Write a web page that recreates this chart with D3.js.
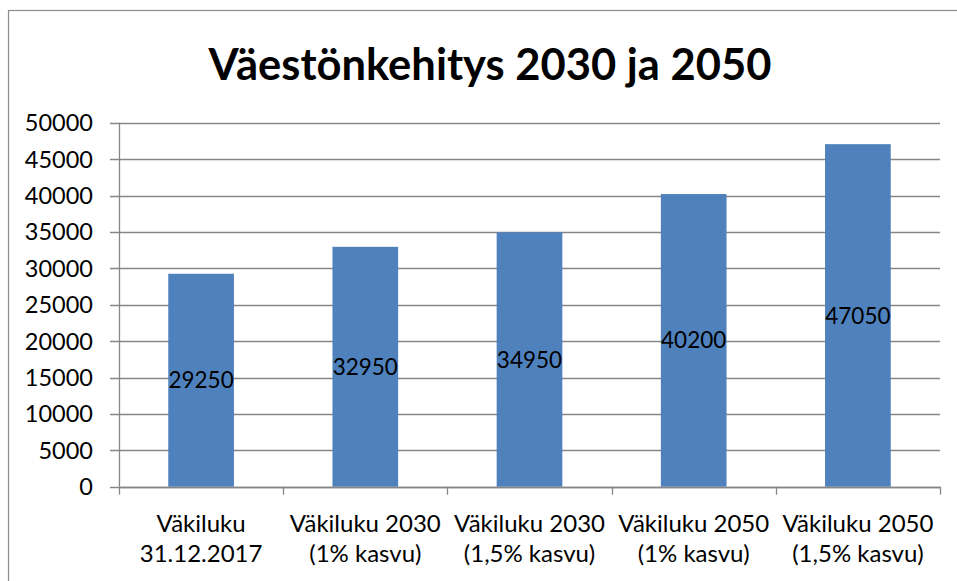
<!DOCTYPE html>
<html>
<head>
<meta charset="utf-8">
<script src="https://cdn.jsdelivr.net/npm/d3@7"></script>
<style>
html,body{margin:0;padding:0;background:#fff;}
svg{display:block;}
</style>
</head>
<body>
<svg id="chart" width="957" height="581"></svg>
<script>
const title = "Väestönkehitys 2030 ja 2050";
const categories = [
  ["Väkiluku", "31.12.2017"],
  ["Väkiluku 2030", "(1% kasvu)"],
  ["Väkiluku 2030", "(1,5% kasvu)"],
  ["Väkiluku 2050", "(1% kasvu)"],
  ["Väkiluku 2050", "(1,5% kasvu)"]
];
const values = [29250, 32950, 34950, 40200, 47050];
const yTicks = [0, 5000, 10000, 15000, 20000, 25000, 30000, 35000, 40000, 45000, 50000];

(function () {
const svg = d3.select("#chart");
const font = "Lato, 'Open Sans', sans-serif";
const pLeft = 119, pRight = 940, pTop = 122.7, pBottom = 486.7;

// outer border
svg.append("rect").attr("x", 8.5).attr("y", 10.5).attr("width", 1000).attr("height", 1000)
  .attr("fill", "none").attr("stroke", "#8c8c8c").attr("stroke-width", 1.2);

const x = d3.scaleBand().domain(d3.range(categories.length)).range([pLeft, pRight]).paddingInner(0.6).paddingOuter(0.3);
const xb = d3.scaleBand().domain(d3.range(categories.length)).range([pLeft, pRight]);
const y = d3.scaleLinear().domain([0, 50000]).range([pBottom, pTop]);

// gridlines
svg.append("g").selectAll("line").data(yTicks).join("line")
  .attr("x1", pLeft - 9).attr("x2", pRight)
  .attr("y1", d => Math.round(y(d)) + 0.5).attr("y2", d => Math.round(y(d)) + 0.5)
  .attr("stroke", "#868686").attr("stroke-width", 1.3);

// y axis line
svg.append("line").attr("x1", pLeft + 0.5).attr("x2", pLeft + 0.5).attr("y1", pTop).attr("y2", pBottom)
  .attr("stroke", "#868686").attr("stroke-width", 1.3);

// y labels
svg.append("g").selectAll("text").data(yTicks).join("text")
  .attr("x", 93).attr("y", d => y(d)).attr("dy", "0.36em")
  .attr("text-anchor", "end").attr("font-family", font).attr("font-size", 23.5).attr("fill", "#000")
  .text(d => d);

// bars
svg.append("g").selectAll("rect").data(values).join("rect")
  .attr("x", (d, i) => x(i)).attr("width", x.bandwidth())
  .attr("y", d => y(d)).attr("height", d => pBottom - y(d))
  .attr("fill", "#4F81BD");

// x axis ticks
const bounds = d3.range(categories.length + 1).map(i => i < categories.length ? xb(i) : pRight);
svg.append("g").selectAll("line").data(bounds).join("line")
  .attr("x1", d => Math.round(d) + 0.5).attr("x2", d => Math.round(d) + 0.5)
  .attr("y1", pBottom).attr("y2", pBottom + 8)
  .attr("stroke", "#868686").attr("stroke-width", 1.3);

// x axis line
svg.append("line").attr("x1", pLeft).attr("x2", pRight).attr("y1", Math.round(pBottom) + 0.5).attr("y2", Math.round(pBottom) + 0.5)
  .attr("stroke", "#868686").attr("stroke-width", 1.3);

// value labels
svg.append("g").selectAll("text").data(values).join("text")
  .attr("x", (d, i) => x(i) + x.bandwidth() / 2)
  .attr("y", d => (y(d) + pBottom) / 2).attr("dy", "0.36em")
  .attr("text-anchor", "middle").attr("font-family", font).attr("font-size", 22.5).attr("fill", "#000")
  .text(d => d);

// category labels
const cl = svg.append("g").selectAll("text").data(categories).join("text")
  .attr("text-anchor", "middle").attr("font-family", font).attr("font-size", 24).attr("fill", "#000");
cl.selectAll("tspan").data((d, i) => d.map(t => ({t, i}))).join("tspan")
  .attr("x", d => xb(d.i) + xb.bandwidth() / 2)
  .attr("y", (d, j) => 532 + j * 30)
  .text(d => d.t);

// title
svg.append("text").attr("x", 490).attr("y", 80).attr("text-anchor", "middle")
  .attr("font-family", font).attr("font-weight", "bold").attr("font-size", 43.5).attr("fill", "#000")
  .text(title);
})();
</script>
</body>
</html>
